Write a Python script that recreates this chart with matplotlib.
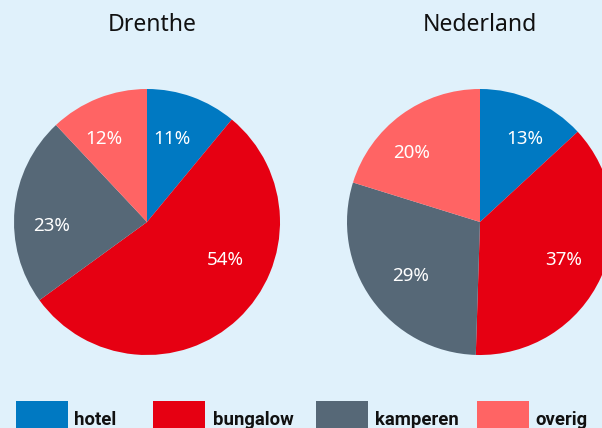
import matplotlib.pyplot as plt
from matplotlib.patches import Rectangle

# data
categories = ['hotel', 'bungalow', 'kamperen', 'overig']
regions = ['Drenthe', 'Nederland']
drenthe = [11, 54, 23, 12]
nederland = [13, 37, 29, 20]
colors = ['#0079c2', '#e60012', '#566877', '#ff6464']

W, H = 602, 428
bg = '#e0f1fb'

fig = plt.figure(figsize=(W / 100, H / 100), dpi=100, facecolor=bg)
ax = fig.add_axes([0, 0, 1, 1])
ax.set_facecolor(bg)

def iy(y):
    # image pixel row -> data y
    return H - y

centers = [(147, 222), (480, 222)]
radius = 133
# label offsets from pie center (pixels, image orientation)
label_offsets = [
    [(25, -83), (78, 38), (-95, 4), (-43, -83)],
    [(45, -83), (84, 38), (-69, 54), (-68, -69)],
]

for values, name, (cx, cy), offs in zip([drenthe, nederland], regions,
                                          centers, label_offsets):
    ax.pie(values, colors=colors, startangle=90, counterclock=False,
           center=(cx, iy(cy)), radius=radius, frame=True,
           wedgeprops=dict(linewidth=0))
    ax.text(cx + 5 if name == 'Drenthe' else cx, iy(25), name,
            ha='center', va='center', fontsize=16.5,
            family='Noto Sans', color='#111111')
    for v, (dx, dy) in zip(values, offs):
        ax.text(cx + dx, iy(cy + dy), '%d%%' % v, ha='center', va='center',
                fontsize=13.5, family='Noto Sans', color='white')

ax.set_xlim(0, W)
ax.set_ylim(0, H)
ax.set_aspect('equal')
ax.axis('off')

# legend
patch_x = [16, 153, 316, 477]
text_x = [74, 213, 375, 535]
for c, lab, px, tx in zip(colors, categories, patch_x, text_x):
    ax.add_patch(Rectangle((px, iy(432)), 52, 31, facecolor=c,
                           edgecolor='none', clip_on=False))
    ax.text(tx, iy(425), lab, ha='left', va='baseline', fontsize=13.3,
            fontweight='bold', family='Roboto', color='#111111')

fig.savefig('out.png', dpi=100, facecolor=bg)
